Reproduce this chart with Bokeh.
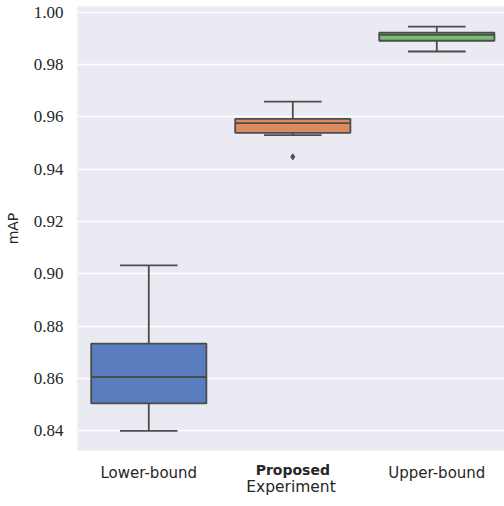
from bokeh.plotting import figure
from bokeh.models import FixedTicker, Range1d, LinearAxis, NumeralTickFormatter
from bokeh.embed import file_html
from bokeh.resources import INLINE

# ---- data ----
categories = ["Lower-bound", "Proposed", "Upper-bound"]
q1 = [0.8504, 0.9539, 0.9891]
median = [0.8605, 0.9576, 0.9914]
q3 = [0.8733, 0.9592, 0.9922]
whisker_low = [0.8399, 0.9530, 0.9850]
whisker_high = [0.9032, 0.9658, 0.9945]
outlier_x = [1]
outlier_y = [0.9447]
colors = ["#597dbf", "#da8b5f", "#76bf71"]
y_ticks = [0.84, 0.86, 0.88, 0.90, 0.92, 0.94, 0.96, 0.98, 1.00]

xs = list(range(len(categories)))
box_w = 0.8
cap_w = 0.4
line_col = "#4c4c4c"
text_col = "#262626"

p = figure(output_backend="svg", toolbar_location=None,
           frame_width=427, frame_height=444,
           min_border_left=77, min_border_right=0, min_border_top=6, min_border_bottom=56,
           x_range=Range1d(-0.495, 2.47), y_range=Range1d(0.8324, 1.0022))
p.background_fill_color = "#eaeaf2"
p.border_fill_color = "white"
p.outline_line_color = None

# whiskers
p.segment(x0=xs, y0=whisker_low, x1=xs, y1=q1, line_color=line_col, line_width=1.8)
p.segment(x0=xs, y0=q3, x1=xs, y1=whisker_high, line_color=line_col, line_width=1.8)
# caps
p.segment(x0=[x - cap_w / 2 for x in xs], y0=whisker_low, x1=[x + cap_w / 2 for x in xs], y1=whisker_low,
          line_color=line_col, line_width=1.8)
p.segment(x0=[x - cap_w / 2 for x in xs], y0=whisker_high, x1=[x + cap_w / 2 for x in xs], y1=whisker_high,
          line_color=line_col, line_width=1.8)
# boxes
p.quad(left=[x - box_w / 2 for x in xs], right=[x + box_w / 2 for x in xs], bottom=q1, top=q3,
       fill_color=colors, line_color=line_col, line_width=1.8)
# medians
p.segment(x0=[x - box_w / 2 for x in xs], y0=median, x1=[x + box_w / 2 for x in xs], y1=median,
          line_color=line_col, line_width=1.8)
# outliers
p.scatter(x=outlier_x, y=outlier_y, marker="diamond", size=6, fill_color=line_col, line_color=line_col)

# grid
p.xgrid.grid_line_color = None
p.ygrid.grid_line_color = "white"
p.ygrid.grid_line_width = 1.3
p.ygrid.ticker = FixedTicker(ticks=y_ticks)

# y axis
p.yaxis.ticker = FixedTicker(ticks=y_ticks)
p.yaxis.formatter = NumeralTickFormatter(format="0.00")
p.yaxis.axis_label = "mAP"
p.yaxis.axis_label_text_font = "DejaVu Sans"
p.yaxis.axis_label_text_font_size = "14px"
p.yaxis.axis_label_text_font_style = "normal"
p.yaxis.axis_label_text_color = text_col
p.yaxis.axis_label_standoff = 10
p.yaxis.major_label_text_font = "Liberation Serif"
p.yaxis.major_label_text_font_size = "17px"
p.yaxis.major_label_text_color = text_col
p.yaxis.major_label_standoff = 14
p.yaxis.major_tick_out = 0
p.yaxis.major_tick_in = 0
p.yaxis.axis_line_color = None
p.yaxis.major_tick_line_color = None
p.yaxis.minor_tick_line_color = None

# main x axis: normal-weight category labels
xa = p.xaxis[0]
xa.ticker = FixedTicker(ticks=[xs[0], xs[2]])
xa.major_label_overrides = {xs[0]: categories[0], xs[2]: categories[2]}
xa.major_label_text_font = "DejaVu Sans"
xa.major_label_text_font_size = "15px"
xa.major_label_text_color = text_col
xa.major_label_standoff = 13
xa.major_tick_out = 0
xa.major_tick_in = 0
xa.axis_line_color = None
xa.major_tick_line_color = None
xa.minor_tick_line_color = None

# second x axis: bold middle category + axis title, pulled up to the same row
xb = LinearAxis(ticker=FixedTicker(ticks=[xs[1]]),
                major_label_overrides={xs[1]: categories[1]},
                major_label_text_font="DejaVu Sans", major_label_text_font_size="14px",
                major_label_text_font_style="bold", major_label_text_color=text_col,
                major_label_standoff=-23, major_tick_out=0, major_tick_in=0,
                axis_line_color=None, major_tick_line_color=None, minor_tick_line_color=None,
                axis_label="Experiment", axis_label_text_font="DejaVu Sans",
                axis_label_text_font_size="15.5px", axis_label_text_font_style="normal",
                axis_label_text_color=text_col, axis_label_standoff=-3)
p.add_layout(xb, "below")

open("out.html", "w").write(file_html(p, INLINE))
